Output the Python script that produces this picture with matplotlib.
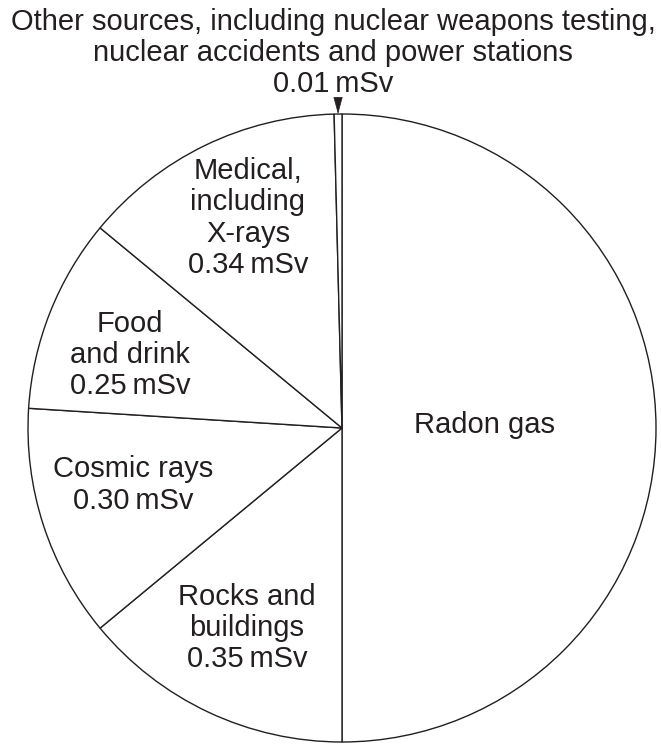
#!/usr/bin/env python3
"""Pie chart of average annual radiation dose by source."""
import matplotlib

matplotlib.use("Agg")
import matplotlib.pyplot as plt
import numpy as np

plt.rcParams["font.family"] = ["Liberation Sans", "DejaVu Sans"]

# data: dose in mSv, drawn clockwise from the top
sources = ["Radon gas", "Rocks and buildings", "Cosmic rays",
           "Food and drink", "Medical, including X-rays", "Other sources"]
doses = [1.25, 0.35, 0.30, 0.25, 0.34, 0.01]
labels = [
    "Radon gas",
    "Rocks and\nbuildings\n0.35\u2009mSv",
    "Cosmic rays\n0.30\u2009mSv",
    "Food\nand drink\n0.25\u2009mSv",
    "Medical,\nincluding\nX-rays\n0.34\u2009mSv",
    None,
]
other_label = ("Other sources, including nuclear weapons testing,\n"
               "nuclear accidents and power stations\n0.01\u2009mSv")

INK = "#231f20"
FS = 21
LS = 1.15
W, H = 661, 744
CX, CY, R = 342, 428, 314

# label centres in image pixels
label_px = [(484, 425), (247, 628), (133, 485), (130, 355), (248, 218), None]


def px(x, y):
    return (x - CX) / R, (CY - y) / R


fig = plt.figure(figsize=(W / 100, H / 100), dpi=100)
ax = fig.add_axes([(CX - R) / W, (H - CY - R) / H, 2 * R / W, 2 * R / H])

wedges, _ = ax.pie(doses, startangle=90, counterclock=False, radius=1,
                   colors=["white"] * len(doses),
                   wedgeprops=dict(edgecolor=INK, linewidth=1.0))
ax.set_xlim(-1, 1)
ax.set_ylim(-1, 1)
ax.axis("off")

for text, pos in zip(labels, label_px):
    if text is None:
        continue
    x, y = px(*pos)
    ax.text(x, y, text, ha="center", va="center", fontsize=FS, color=INK,
            linespacing=LS, multialignment="center")

# caption for the tiny slice, with a pointer
tx, ty = px(333, 53)
ax.text(tx, ty, other_label, ha="center", va="center", fontsize=FS,
        color=INK, linespacing=LS, multialignment="center")

w = wedges[-1]
mid = np.deg2rad((w.theta1 + w.theta2) / 2)
tip = (np.cos(mid), np.sin(mid))
ax.annotate("", xy=tip, xytext=(tip[0], tip[1] + 16 / R),
            arrowprops=dict(arrowstyle="-|>,head_length=1.1,head_width=0.3",
                            color=INK, lw=0.5, shrinkA=0, shrinkB=0,
                            mutation_scale=10))

fig.savefig("out.png", dpi=100, facecolor="white")
